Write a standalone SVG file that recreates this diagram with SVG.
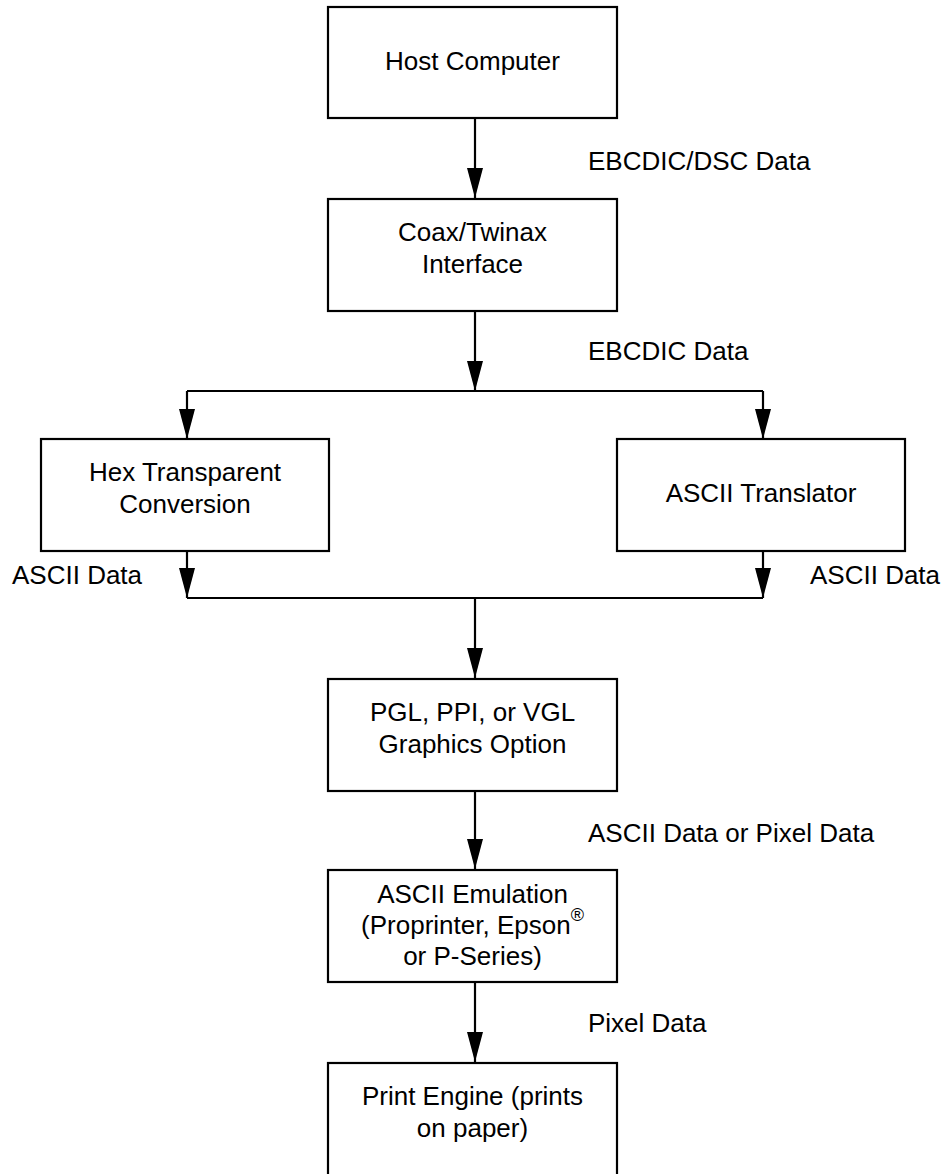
<svg xmlns="http://www.w3.org/2000/svg" width="952" height="1174" viewBox="0 0 952 1174">
<defs>
<style>
.box{fill:#fff;stroke:#000;stroke-width:2.2}
.t{font-family:"Liberation Sans",Arial,sans-serif;font-size:26px;fill:#000;text-anchor:middle}
.l{font-family:"Liberation Sans",Arial,sans-serif;font-size:26px;fill:#000}
.c{fill:none;stroke:#000;stroke-width:2.2}
</style>
<marker id="ah" viewBox="0 0 30 16" refX="30" refY="8" markerWidth="30" markerHeight="16" markerUnits="userSpaceOnUse" orient="auto">
<path d="M0,0 L30,8 L0,16 Z" fill="#000"/>
</marker>
</defs>
<rect width="952" height="1174" fill="#fff"/>
<g id="connectors">
<line class="c" x1="475" y1="118" x2="475" y2="198" marker-end="url(#ah)"/>
<line class="c" x1="475" y1="311" x2="475" y2="391" marker-end="url(#ah)"/>
<polyline class="c" points="187,391 763,391"/>
<line class="c" x1="187" y1="391" x2="187" y2="439" marker-end="url(#ah)"/>
<line class="c" x1="763" y1="391" x2="763" y2="439" marker-end="url(#ah)"/>
<line class="c" x1="187" y1="551" x2="187" y2="598" marker-end="url(#ah)"/>
<line class="c" x1="763" y1="551" x2="763" y2="598" marker-end="url(#ah)"/>
<polyline class="c" points="187,598 763,598"/>
<line class="c" x1="475" y1="598" x2="475" y2="678" marker-end="url(#ah)"/>
<line class="c" x1="475" y1="791" x2="475" y2="869" marker-end="url(#ah)"/>
<line class="c" x1="475" y1="982" x2="475" y2="1062" marker-end="url(#ah)"/>
<text class="l" x="588" y="170">EBCDIC/DSC Data</text>
<text class="l" x="588" y="360">EBCDIC Data</text>
<text class="l" x="12" y="584">ASCII Data</text>
<text class="l" x="810" y="584">ASCII Data</text>
<text class="l" x="588" y="842">ASCII Data or Pixel Data</text>
<text class="l" x="588" y="1032">Pixel Data</text>
</g>
<g id="host">
<rect class="box" x="328" y="7" width="289" height="111"/>
<text class="t" x="472.5" y="70">Host Computer</text>
</g>
<g id="coax">
<rect class="box" x="328" y="199" width="289" height="112"/>
<text class="t" x="472.5" y="241">Coax/Twinax</text>
<text class="t" x="472.5" y="273">Interface</text>
</g>
<g id="hex">
<rect class="box" x="41" y="439" width="288" height="112"/>
<text class="t" x="185" y="481">Hex Transparent</text>
<text class="t" x="185" y="513">Conversion</text>
</g>
<g id="translator">
<rect class="box" x="617" y="439" width="288" height="112"/>
<text class="t" x="761" y="502">ASCII Translator</text>
</g>
<g id="graphics">
<rect class="box" x="328" y="679" width="289" height="112"/>
<text class="t" x="472.5" y="721">PGL, PPI, or VGL</text>
<text class="t" x="472.5" y="753">Graphics Option</text>
</g>
<g id="emulation">
<rect class="box" x="328" y="870" width="289" height="112"/>
<text class="t" x="472.5" y="903">ASCII Emulation</text>
<text class="t" x="472.5" y="934">(Proprinter, Epson<tspan font-size="18" dy="-13">®</tspan></text>
<text class="t" x="472.5" y="965">or P-Series)</text>
</g>
<g id="engine">
<rect class="box" x="328" y="1063" width="289" height="115"/>
<text class="t" x="472.5" y="1105">Print Engine (prints</text>
<text class="t" x="472.5" y="1137">on paper)</text>
</g>
</svg>
